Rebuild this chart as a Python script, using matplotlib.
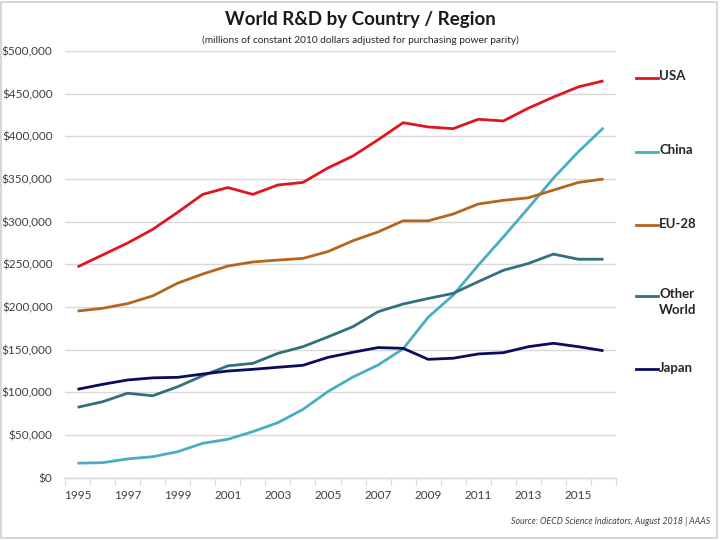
import matplotlib
matplotlib.use("Agg")
import matplotlib.pyplot as plt
from matplotlib.lines import Line2D
from matplotlib.patches import Rectangle
from matplotlib.ticker import FuncFormatter, FixedLocator

plt.rcParams['font.family'] = ['Lato', 'DejaVu Sans']

years = list(range(1995, 2017))
usa = [247, 261, 275, 291, 311, 332, 340, 332, 343, 346, 363, 377, 396, 416, 411, 409, 420, 418, 433, 446, 458, 465]
china = [17, 17.6, 22, 24.6, 30.5, 40.3, 45, 54, 64.5, 80, 101, 118, 132, 151, 188, 214, 249, 282, 316, 351, 382, 410]
eu28 = [195.3, 198.5, 204, 213, 228, 238.7, 248, 252.8, 255, 257, 265, 277.7, 288, 301, 301, 309, 320.7, 325, 328, 337, 346, 350]
other = [82.5, 89, 99, 96, 106.6, 119.5, 131, 134, 145.7, 153.5, 165, 177, 194.5, 203.5, 210, 216, 229.7, 243, 251, 262, 256, 256]
japan = [103.6, 109.4, 114.5, 117, 117.6, 121.5, 125, 127, 129.4, 131.7, 141, 147, 152.5, 151.6, 138.7, 140, 145, 146.5, 153.5, 157.5, 153.5, 148.8]

series_names = ["USA", "China", "EU-28", "Other\nWorld", "Japan"]
series_values = [usa, china, eu28, other, japan]
series_colors = ["#E0161E", "#4BACC6", "#B5651D", "#31707E", "#0C0C5C"]

tick_years = [1995, 1997, 1999, 2001, 2003, 2005, 2007, 2009, 2011, 2013, 2015]
y_ticks = list(range(0, 500001, 50000))

fig = plt.figure(figsize=(7.2, 5.4), dpi=100)
fig.patch.set_facecolor("white")
ax = fig.add_axes([65/720, 1-477.7/540, (616-65)/720, (477.7-51)/540])

xs = list(range(len(years)))
for name, vals, col in zip(series_names, series_values, series_colors):
    ax.plot(xs, [v*1000 for v in vals], color=col, lw=2.0, solid_joinstyle='round', solid_capstyle='butt', zorder=3)

ax.set_xlim(-0.5, len(years)-0.5)
ax.set_ylim(0, 500000)
ax.yaxis.set_major_locator(FixedLocator(y_ticks))
ax.yaxis.set_major_formatter(FuncFormatter(lambda v, p: f"${int(v):,}"))
ax.grid(axis='y', color='#D9D9D9', lw=1.0, zorder=0)
ax.tick_params(axis='y', length=0, pad=9, labelsize=8.5, labelcolor='#404040')

ax.set_xticks([years.index(y) for y in tick_years])
ax.set_xticklabels([str(y) for y in tick_years])
ax.set_xticks([i-0.5 for i in range(len(years)+1)], minor=True)
ax.tick_params(axis='x', which='major', length=0, pad=9, labelsize=8.5, labelcolor='#404040')
ax.tick_params(axis='x', which='minor', length=5, width=0.8, color='#D9D9D9', direction='out')

for s in ['top', 'right', 'left']:
    ax.spines[s].set_visible(False)
ax.spines['bottom'].set_color('#D9D9D9')
ax.spines['bottom'].set_linewidth(1.0)

# Title and subtitle
fig.text(360/720, 1-19/540, "World R&D by Country / Region", ha='center', va='center',
         fontsize=13.5, fontweight='bold', color='#1A1A1A')
fig.text(360/720, 1-40/540, "(millions of constant 2010 dollars adjusted for purchasing power parity)",
         ha='center', va='center', fontsize=7.3, color='#262626')

# Legend on the right
legend_y = [78, 152, 225, 296, 369]
for name, col, ly in zip(series_names, series_colors, legend_y):
    fig.add_artist(Line2D([636/720, 658/720], [1-ly/540, 1-ly/540], color=col, lw=2.0,
                          transform=fig.transFigure))
    fig.text(659/720, 1-(ly-7.5)/540, name, ha='left', va='top', multialignment='left',
             fontsize=9.5, fontweight='bold', color='#262626', linespacing=1.3)

# Source
fig.text(710/720, 1-521/540, "Source: OECD Science Indicators, August 2018 | AAAS",
         ha='right', va='center', fontsize=6.3, style='italic', color='#404040')

# Frame
fig.add_artist(Rectangle((0.002, 0.003), 0.994, 0.994, transform=fig.transFigure,
                         fill=False, edgecolor='#D0D0D0', lw=1.2))

fig.savefig("out.png", dpi=100)
